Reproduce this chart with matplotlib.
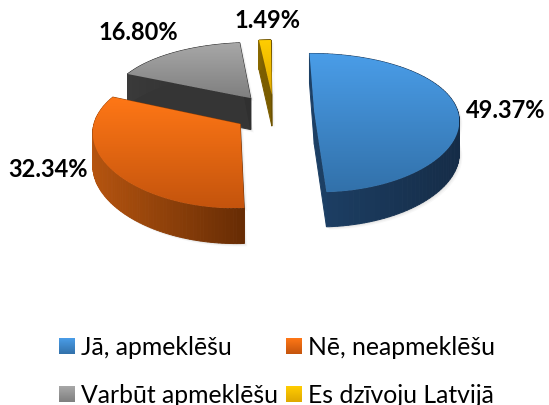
import numpy as np
import matplotlib
matplotlib.use("Agg")
import matplotlib.pyplot as plt
from matplotlib.colors import LinearSegmentedColormap, to_rgb
from matplotlib.patches import Polygon

plt.rcParams['font.family'] = ['Lato', 'DejaVu Sans']

categories = ["Jā, apmeklēšu", "Nē, neapmeklēšu", "Varbūt apmeklēšu", "Es dzīvoju Latvijā"]
values = [49.37, 32.34, 16.80, 1.49]
value_labels = ["49.37%", "32.34%", "16.80%", "1.49%"]
top_colors = [("#4a9de8", "#3271aa"), ("#ff7716", "#c4540d"), ("#a8a8a8", "#7f7f7f"), ("#ffcd00", "#dfa800")]
side_colors = [("#1d4066", "#152c47"), ("#b5540f", "#662c04"), ("#3a3a3a", "#303030"), ("#8a6a00", "#6b5000")]
label_pos = [(506, 110), (48, 170), (138, 33), (267, 21)]
legend_pos = [(59, 339), (286, 339), (59, 387), (286, 387)]

W, H = 549, 406
fig = plt.figure(figsize=(W / 100, H / 100), dpi=100)
ax = fig.add_axes([0, 0, 1, 1])

CX, CY, RX, RY, PERSP, PERSP_X, EXPLODE, DEPTH, ROT = 274, 114, 144, 68, 0.15, 0.10, 0.28, 32, -0.5


def project(u, v):
    s = 1 / (1 + PERSP * v)
    return CX + RX * u / (1 + PERSP_X * v), CY - RY * v * s, np.sqrt(s)


def gradient(c0, c1, extent, clip, zorder, horizontal=False):
    cmap = LinearSegmentedColormap.from_list("g", [c0, c1])
    arr = np.linspace(0, 1, 128)
    arr = arr.reshape(1, -1) if horizontal else arr.reshape(-1, 1)
    im = ax.imshow(arr, cmap=cmap, extent=extent, aspect="auto", zorder=zorder, interpolation="bilinear")
    if clip is not None:
        im.set_clip_path(clip)
    return im


fractions = np.array(values) / sum(values) * 360
starts = ROT + np.concatenate(([0], np.cumsum(fractions)[:-1]))
order = [2, 3, 1, 0]

for rank, i in enumerate(order):
    a0, a1 = starts[i], starts[i] + fractions[i]
    mid = np.radians((a0 + a1) / 2)
    ou, ov = EXPLODE * np.sin(mid), EXPLODE * np.cos(mid)
    ang = np.radians(np.linspace(a0, a1, 90))
    us = np.concatenate(([ou], ou + np.sin(ang), [ou]))
    vs = np.concatenate(([ov], ov + np.cos(ang), [ov]))
    x, y, s = project(us, vs)
    yb = y + DEPTH * s
    base = rank * 10 + 2
    xmin, xmax = x.min(), x.max()
    c0, c1 = np.array(to_rgb(side_colors[i][0])), np.array(to_rgb(side_colors[i][1]))
    # soft shadow
    for k, al in zip((3, 2, 1), (0.05, 0.08, 0.12)):
        ax.add_patch(Polygon(np.column_stack([np.r_[x, x[::-1]] + k, np.r_[yb, y[::-1]] + k]),
                             closed=True, fc="#808080", ec="none", alpha=al, zorder=base - 1))
    for j in range(len(x) - 1):
        t = ((x[j] + x[j + 1]) / 2 - xmin) / max(xmax - xmin, 1)
        col = c0 + (c1 - c0) * t
        q = [(x[j], y[j]), (x[j + 1], y[j + 1]), (x[j + 1], yb[j + 1]), (x[j], yb[j])]
        ax.add_patch(Polygon(q, closed=True, fc=col, ec=col, lw=0.7, zorder=base))
    poly = Polygon(np.column_stack([x, y]), closed=True, transform=ax.transData, fc="none", ec="none", zorder=base + 1)
    ax.add_patch(poly)
    gradient(top_colors[i][0], top_colors[i][1], (xmin, xmax, y.max(), y.min()), poly, base + 2)

for lab, (lx, ly) in zip(value_labels, label_pos):
    ax.text(lx, ly, lab, ha="center", va="center", fontsize=17, fontweight="bold", color="black", zorder=100)

for i, (cat, (lx, ly)) in enumerate(zip(categories, legend_pos)):
    gradient(top_colors[i][0], top_colors[i][1], (lx, lx + 16, ly + 16, ly), None, 100)
    ax.text(lx + 22, ly + 16, cat, ha="left", va="baseline", fontsize=17.8, color="black", zorder=100)

ax.set_xlim(0, W)
ax.set_ylim(H, 0)
ax.axis("off")
fig.savefig("out.png", dpi=100, facecolor="white")
